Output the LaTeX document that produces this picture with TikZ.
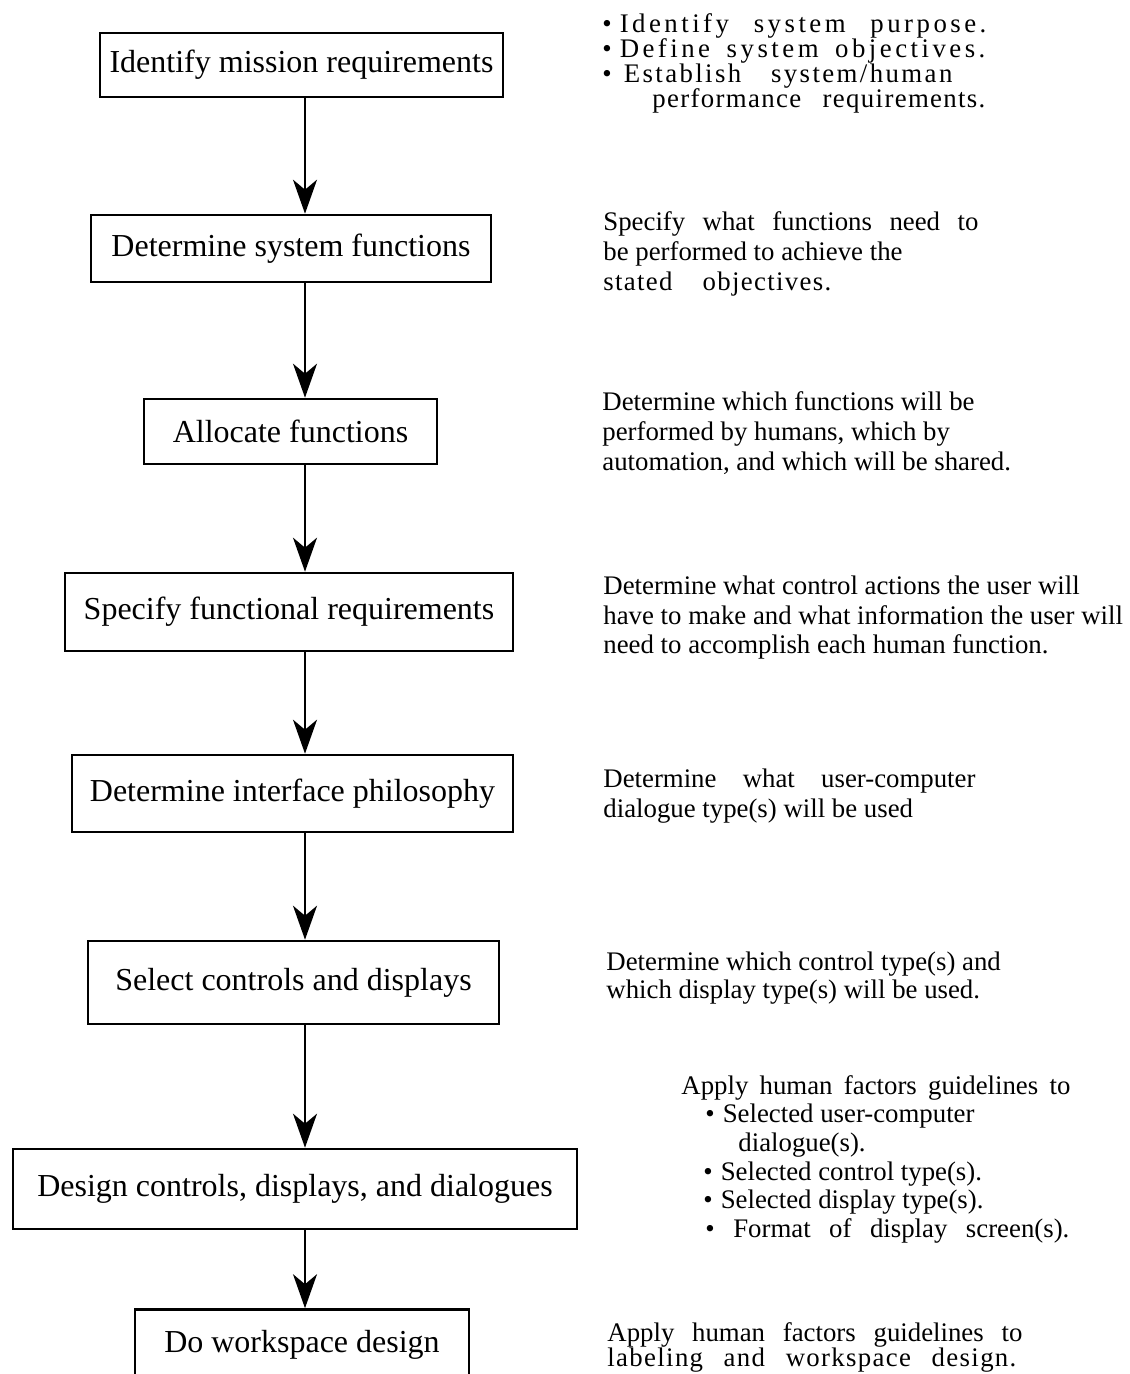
\documentclass[tikz,border=0pt]{standalone}
\usepackage{fontspec}
\setmainfont{Liberation Serif}
\newfontfamily\widefont[LetterSpace=13]{Liberation Serif}
\newfontfamily\midwidefont[LetterSpace=9]{Liberation Serif}
\newfontfamily\halfwidefont[LetterSpace=5]{Liberation Serif}
\usetikzlibrary{arrows.meta,positioning}
\newcommand{\stretchline}[2]{\makebox[#1][s]{#2}}

\begin{document}
\begin{tikzpicture}[
    x=0.5pt, y=-0.5pt,
    task/.style={rectangle, draw, line width=1.3pt, inner sep=0pt, font=\fontsize{16pt}{19pt}\selectfont},
    aside/.style={anchor=north west, inner sep=0pt, align=left, font=\fontsize{13.4pt}{#1}\selectfont},
    aside/.default=15pt,
    flow/.style={-{Stealth[length=17pt, width=12pt, inset=5pt]}, line width=1pt}
]
    \useasboundingbox (0,0) rectangle (1129,1374);
    \clip (0,0) rectangle (1129,1374);

    % Steps
    \node[task, minimum width=201.5pt, minimum height=32pt] (mission) at (301.5,65) {Identify mission requirements};
    \node[task, minimum width=200pt, minimum height=33.5pt] (functions) at (291,248.5) {Determine system functions};
    \node[task, minimum width=146.5pt, minimum height=32.5pt] (allocate) at (290.5,431.5) {Allocate functions};
    \node[task, minimum width=224pt, minimum height=39pt] (specify) at (289,612) {Specify functional requirements};
    \node[task, minimum width=220.5pt, minimum height=38.5pt] (interface) at (292.5,793.5) {Determine interface philosophy};
    \node[task, minimum width=205.5pt, minimum height=41.5pt] (select) at (293.5,982.5) {Select controls and displays};
    \node[task, minimum width=282pt, minimum height=40pt] (design) at (295,1189) {Design controls, displays, and dialogues};
    \node[task, minimum width=167pt, minimum height=35pt] (workspace) at (302,1344.5) {Do workspace design};

    % Flow
    \coordinate (ax) at (305,0);
    \draw[flow] (mission.south -| ax) -- (functions.north -| ax);
    \draw[flow] (functions.south -| ax) -- (allocate.north -| ax);
    \draw[flow] (allocate.south -| ax) -- (specify.north -| ax);
    \draw[flow] (specify.south -| ax) -- (interface.north -| ax);
    \draw[flow] (interface.south -| ax) -- (select.north -| ax);
    \draw[flow] (select.south -| ax) -- (design.north -| ax);
    \draw[flow] (design.south -| ax) -- (workspace.north -| ax);

    % Explanations
    \node[aside=12.5pt] (missionNote) at (602,13) {%
        {\widefont\stretchline{192pt}{\textbullet\kern4pt Identify system purpose.}}\\
        {\widefont\stretchline{191.5pt}{\textbullet\kern4pt Define system objectives.}}\\
        {\midwidefont\stretchline{175pt}{\textbullet\kern6pt Establish system/human}}\\
        \hspace*{25pt}{\halfwidefont\stretchline{166.5pt}{performance requirements.}}};
    \node[aside] (functionsNote) at (603,211) {%
        \stretchline{187.5pt}{Specify what functions need to}\\
        be performed to achieve the\\
        {\halfwidefont\stretchline{114pt}{stated objectives.}}};
    \node[aside] (allocateNote) at (602,391) {%
        Determine which functions will be\\
        performed by humans, which by\\
        automation, and which will be shared.};
    \node[aside=14.5pt] (specifyNote) at (603,576) {%
        Determine what control actions the user will\\
        have to make and what information the user will\\
        need to accomplish each human function.};
    \node[aside] (interfaceNote) at (603,768) {%
        \stretchline{186pt}{Determine what user-computer}\\
        dialogue type(s) will be used};
    \node[aside=14pt] (selectNote) at (606,951) {%
        Determine which control type(s) and\\
        which display type(s) will be used.};
    \node[aside=14.3pt] (designNote) at (681,1075) {%
        \stretchline{194.5pt}{Apply human factors guidelines to}\\
        \hspace*{12pt}\textbullet\kern4pt Selected user-computer\\
        \hspace*{28.5pt}dialogue(s).\\
        \hspace*{11pt}\textbullet\kern4pt Selected control type(s).\\
        \hspace*{11pt}\textbullet\kern4pt Selected display type(s).\\
        \hspace*{12pt}\stretchline{182pt}{\textbullet\ Format of display screen(s).}};
    \node[aside=12.5pt] (workspaceNote) at (607,1322) {%
        \stretchline{207.5pt}{Apply human factors guidelines to}\\
        {\halfwidefont\stretchline{204.5pt}{labeling and workspace design.}}};
\end{tikzpicture}
\end{document}
